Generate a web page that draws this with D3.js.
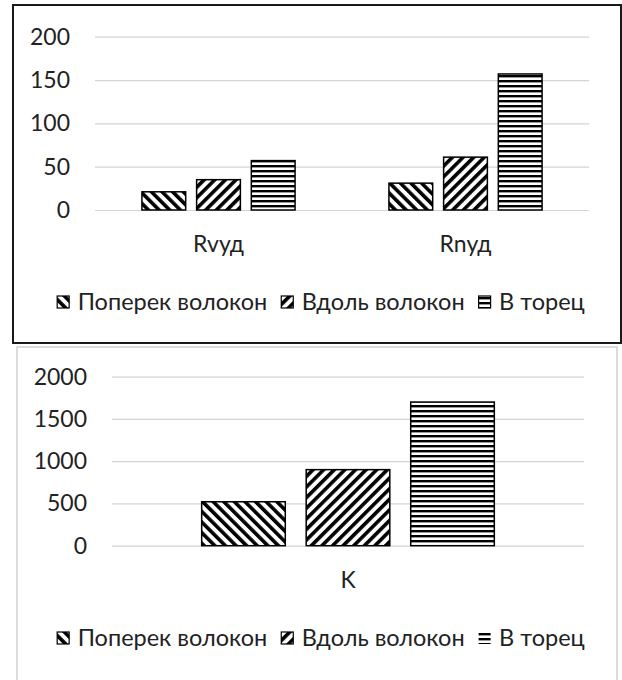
<!DOCTYPE html>
<html>
<head>
<meta charset="utf-8">
<script src="https://cdn.jsdelivr.net/npm/d3@7"></script>
<style>
  body { margin: 0; background: #fff; }
  svg { display: block; font-family: Lato, "Open Sans", sans-serif; }
</style>
</head>
<body>
<div id="chart"></div>
<script>
// Data
const seriesNames = ['Поперек волокон', 'Вдоль волокон', 'В торец'];

const topCategories = ['Rvуд', 'Rnуд'];
const topAcross = [21, 31];
const topAlong = [35, 61];
const topEnd = [57, 157];
const topTicks = [0, 50, 100, 150, 200];

const bottomCategories = ['K'];
const bottomAcross = [520];
const bottomAlong = [900];
const bottomEnd = [1700];
const bottomTicks = [0, 500, 1000, 1500, 2000];

const width = 622,
      height = 680;

var svg = d3.select('#chart')
            .append('svg')
            .attr('width', width)
            .attr('height', height);

// hatch patterns
var defs = svg.append('defs');

function hatch(id, angle) {
  var p = defs.append('pattern')
              .attr('id', id)
              .attr('patternUnits', 'userSpaceOnUse')
              .attr('width', 7.5)
              .attr('height', 7.5)
              .attr('patternTransform', 'rotate(' + angle + ')');
  p.append('rect').attr('width', 7.5).attr('height', 7.5).attr('fill', '#fff');
  p.append('rect').attr('width', 3.6).attr('height', 7.5).attr('fill', '#000');
}
hatch('hatch-back', -45);
hatch('hatch-fwd', 45);

var ph = defs.append('pattern')
             .attr('id', 'hatch-horiz')
             .attr('patternUnits', 'userSpaceOnUse')
             .attr('width', 10)
             .attr('height', 5);
ph.append('rect').attr('width', 10).attr('height', 5).attr('fill', '#fff');
ph.append('rect').attr('width', 10).attr('height', 2.4).attr('fill', '#000');

const fills = ['url(#hatch-back)', 'url(#hatch-fwd)', 'url(#hatch-horiz)'];

function drawChart(opt) {
  var g = svg.append('g');

  //frame
  g.append('rect')
   .attr('x', opt.frame[0])
   .attr('y', opt.frame[1])
   .attr('width', opt.frame[2])
   .attr('height', opt.frame[3])
   .attr('fill', '#fff')
   .attr('stroke', opt.frameColor)
   .attr('stroke-width', opt.frameWidth);

  var y = d3.scaleLinear()
            .domain([0, opt.ticks[opt.ticks.length - 1]])
            .range([opt.bottom, opt.top]);

  var x0 = d3.scaleBand()
             .domain(opt.categories)
             .range([opt.left, opt.right]);

  var pad = x0.bandwidth() * 0.19;
  var x1 = d3.scaleBand()
             .domain(d3.range(seriesNames.length))
             .range([pad, x0.bandwidth() - pad])
             .paddingInner(0.2);

  //grid + y labels
  var yAxis = g.append('g')
               .attr('transform', 'translate(' + opt.left + ',0)')
               .call(d3.axisLeft(y)
                       .tickValues(opt.ticks)
                       .tickFormat(d3.format('d'))
                       .tickSize(-(opt.right - opt.left))
                       .tickPadding(25));
  yAxis.select('.domain').remove();
  yAxis.selectAll('line').attr('stroke', '#d4d4d4').attr('stroke-width', 1.2);
  yAxis.selectAll('text')
       .attr('fill', '#222')
       .style('font-size', '23px')
       .style('font-family', 'Lato');

  //bars
  var rows = opt.categories.map(function (c, i) {
    return { cat: c, vals: opt.series.map(function (s) { return s[i]; }) };
  });

  g.selectAll('.grp')
   .data(rows)
   .enter()
   .append('g')
   .attr('transform', function (d) { return 'translate(' + x0(d.cat) + ',0)'; })
   .selectAll('rect')
   .data(function (d) { return d.vals; })
   .enter()
   .append('rect')
   .attr('x', function (d, i) { return x1(i); })
   .attr('y', function (d) { return y(d); })
   .attr('width', x1.bandwidth())
   .attr('height', function (d) { return y(0) - y(d); })
   .attr('fill', function (d, i) { return fills[i]; })
   .attr('stroke', '#000')
   .attr('stroke-width', 1.5);

  //category labels
  var xAxis = g.append('g')
               .attr('transform', 'translate(0,' + opt.bottom + ')')
               .call(d3.axisBottom(x0).tickSize(0).tickPadding(26));
  xAxis.select('.domain').remove();
  xAxis.selectAll('text')
       .attr('fill', '#222')
       .style('font-size', '23px')
       .style('font-family', 'Lato');

  //legend
  var lg = g.append('g').attr('transform', 'translate(0,' + opt.legendY + ')');
  var items = lg.selectAll('g')
                .data(seriesNames)
                .enter()
                .append('g');
  items.append('rect')
       .attr('y', -6)
       .attr('width', 12)
       .attr('height', 12)
       .attr('fill', function (d, i) { return fills[i]; })
       .attr('stroke', function (d, i) { return (i === 2 && !opt.framedKey) ? 'none' : '#000'; })
       .attr('stroke-width', 1.2);
  items.append('text')
       .attr('x', 20.5)
       .attr('dy', '0.36em')
       .attr('fill', '#222')
       .style('font-size', '23.5px')
       .text(function (d) { return d; });

  var xpos = 0;
  var widths = [];
  items.each(function () {
    var w = 20.5 + d3.select(this).select('text').node().getComputedTextLength();
    widths.push(w);
  });
  var total = d3.sum(widths) + 14 * (widths.length - 1);
  xpos = opt.legendCenter - total / 2;
  items.attr('transform', function (d, i) {
    var t = 'translate(' + xpos + ',0)';
    xpos += widths[i] + 14;
    return t;
  });
}

drawChart({
  frame: [13, 5, 608, 338],
  frameColor: '#1a1a1a',
  frameWidth: 2,
  categories: topCategories,
  series: [topAcross, topAlong, topEnd],
  ticks: topTicks,
  left: 95, right: 589,
  top: 36.7, bottom: 210,
  legendY: 302,
  legendCenter: 321,
  framedKey: true
});

drawChart({
  frame: [17, 347, 600, 336],
  frameColor: '#cfcfcf',
  frameWidth: 1.5,
  categories: bottomCategories,
  series: [bottomAcross, bottomAlong, bottomEnd],
  ticks: bottomTicks,
  left: 112, right: 584,
  top: 376.7, bottom: 545.7,
  legendY: 638,
  legendCenter: 321,
  framedKey: false
});
</script>
</body>
</html>
